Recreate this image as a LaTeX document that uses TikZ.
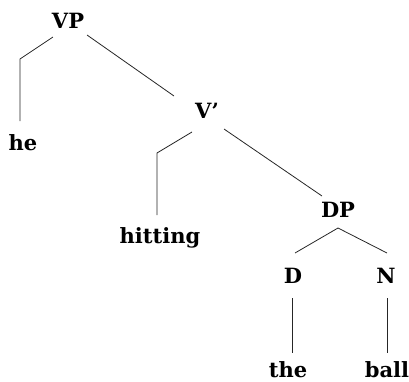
\documentclass[tikz,border=0pt]{standalone}
\usepackage{fontspec}
\setmainfont{DejaVu Serif}
\begin{document}
\begin{tikzpicture}[x=1pt,y=-1pt,
  lbl/.style={font=\bfseries\fontsize{21}{25}\selectfont, anchor=base, inner sep=0pt},
  edge/.style={line width=0.8pt, draw=black!85}]
\useasboundingbox (0,0) rectangle (409,381);
\node[lbl] (VP) at (68,28) {VP};
\node[lbl] (he) at (23,150) {he};
\node[lbl] (Vbar) at (207,118) {V’};
\node[lbl] (hitting) at (160,243) {hitting};
\node[lbl] (DP) at (338,217) {DP};
\node[lbl] (D) at (293,283) {D};
\node[lbl] (N) at (386,283) {N};
\node[lbl] (the) at (288,377) {the};
\node[lbl] (ball) at (387,377) {ball};
% connector points
\coordinate (vpL) at (53,37);
\coordinate (heK) at (20,59);
\coordinate (heT) at (20,121);
\coordinate (vpR) at (87,35);
\coordinate (vbT) at (174,96);
\coordinate (vbL) at (192,132);
\coordinate (hiK) at (157,153);
\coordinate (hiT) at (157,215);
\coordinate (vbR) at (224,129);
\coordinate (dpT) at (322,196);
\coordinate (dpB) at (338,228);
\coordinate (dT) at (295,253);
\coordinate (nT) at (387,253);
\coordinate (dB) at (292,298);
\coordinate (dE) at (292,353);
\coordinate (nB) at (387,298);
\coordinate (nE) at (387,353);
\draw[edge] (vpL) -- (heK) -- (heT);
\draw[edge] (vpR) -- (vbT);
\draw[edge] (vbL) -- (hiK) -- (hiT);
\draw[edge] (vbR) -- (dpT);
\draw[edge] (dpB) -- (dT);
\draw[edge] (dpB) -- (nT);
\draw[edge] (dB) -- (dE);
\draw[edge] (nB) -- (nE);
\end{tikzpicture}
\end{document}
